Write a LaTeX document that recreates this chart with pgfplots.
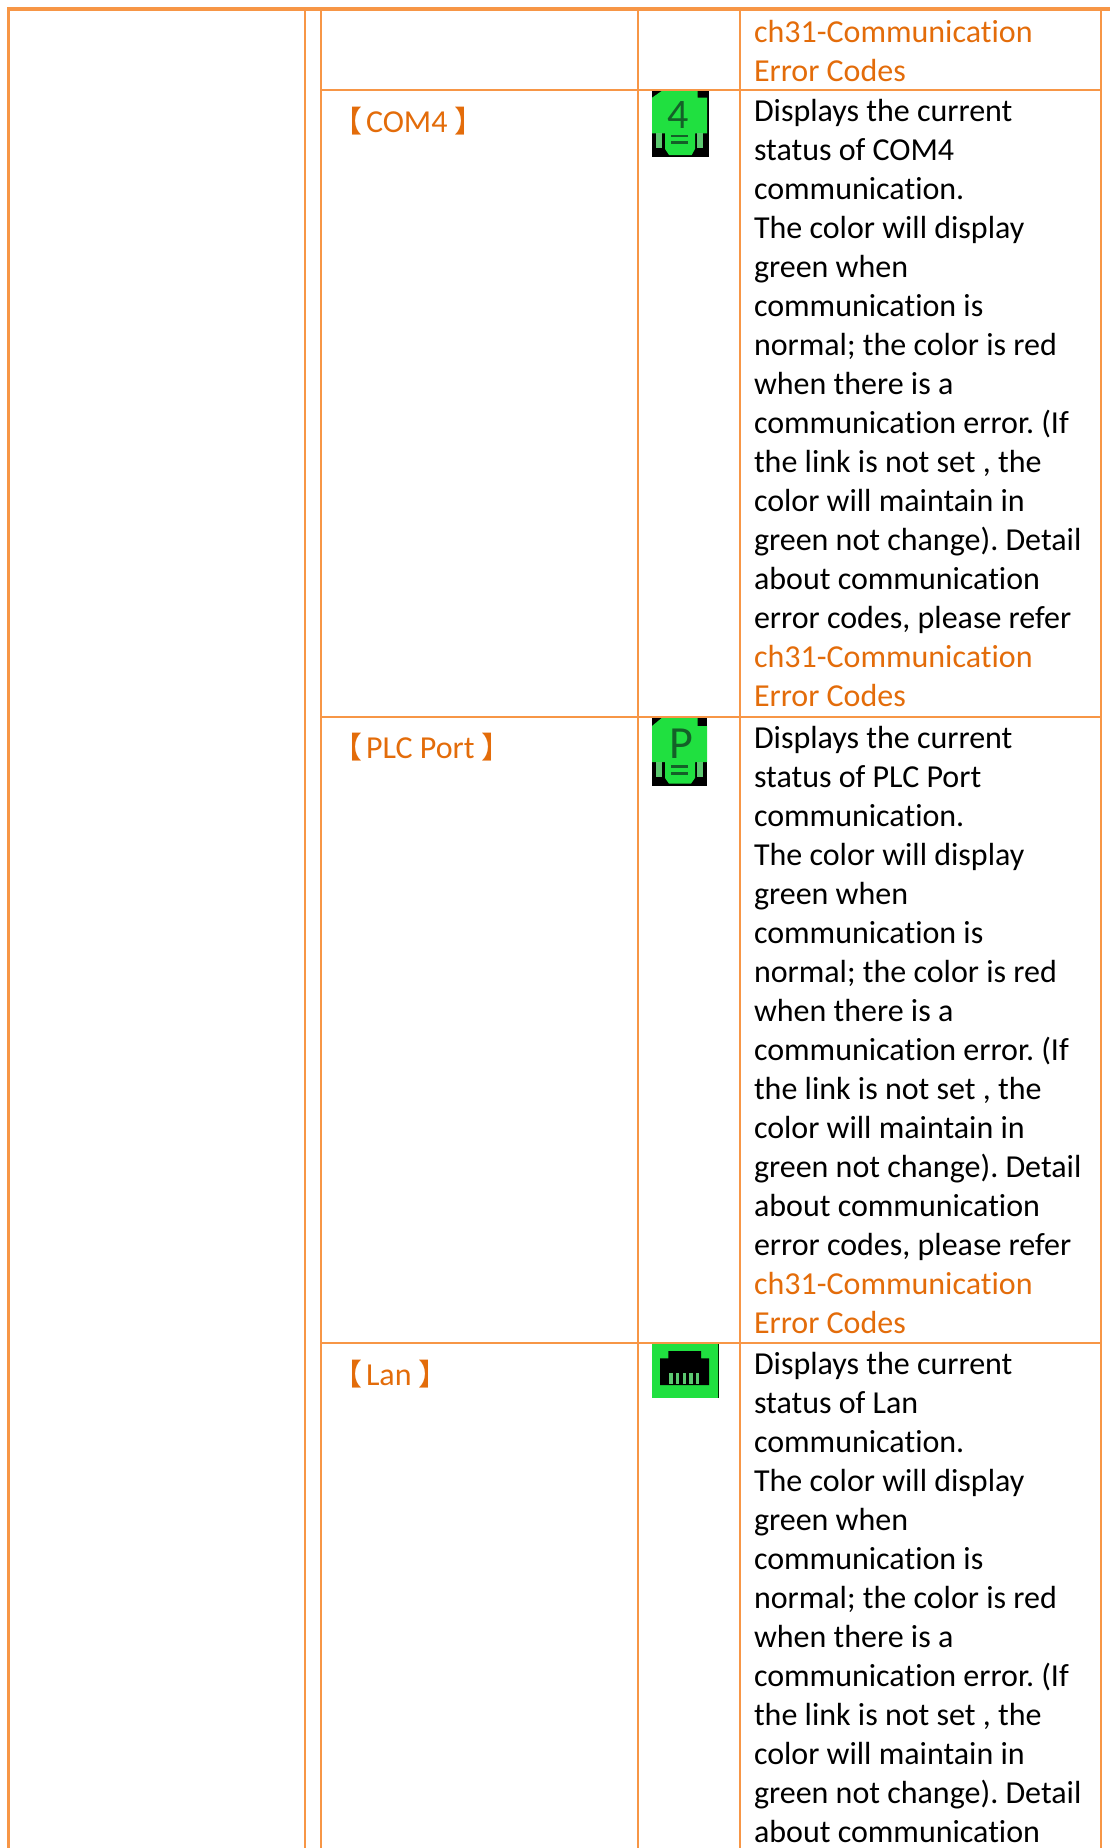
\documentclass[border=0pt]{standalone}
\usepackage{pgfplots}
\pgfplotsset{compat=1.18}
\usepackage{fontspec}
\setmainfont[Ligatures=NoCommon]{Carlito}
\newfontfamily\cjk{Noto Sans CJK SC}
\definecolor{rule}{HTML}{F79646}
\definecolor{link}{HTML}{E36C0A}
\definecolor{igreen}{HTML}{20E040}
\definecolor{dgreen}{HTML}{146028}
\definecolor{pin}{HTML}{5CC870}
\frenchspacing
\newcommand{\T}[2]{\node[anchor=base west,inner sep=0pt,outer sep=0pt,text=black] at (axis cs:754,#1) {\fontsize{32}{39}\selectfont\frenchspacing #2};}
\newcommand{\Tl}[2]{\node[anchor=base west,inner sep=0pt,outer sep=0pt,text=link] at (axis cs:754,#1) {\fontsize{32}{39}\selectfont\frenchspacing #2};}
\newcommand{\Lb}[2]{\node[anchor=base west,inner sep=0pt,outer sep=0pt,text=link] at (axis cs:332.5,#1) {\fontsize{30}{39}\selectfont{\cjk 【}\hspace{3.5pt}\fontsize{32}{39}\selectfont #2\hspace{7pt}\fontsize{30}{39}\selectfont{\cjk 】}};}
\begin{document}
\begin{tikzpicture}
\begin{axis}[
  scale only axis, width=1110pt, height=1848pt,
  xmin=0, xmax=1110, ymin=0, ymax=1848, y dir=reverse,
  hide axis, clip=true, no markers]
% rules
\addplot[rule,line width=4pt] coordinates {(7,9) (1110,9)};
\addplot[rule,line width=2.4pt] coordinates {(8.5,8) (8.5,1848)};
\addplot[rule,line width=2pt] coordinates {(305,8) (305,1848)};
\addplot[rule,line width=2pt] coordinates {(321,8) (321,1848)};
\addplot[rule,line width=2pt] coordinates {(638,8) (638,1848)};
\addplot[rule,line width=2pt] coordinates {(740,8) (740,1848)};
\addplot[rule,line width=2pt] coordinates {(1101,8) (1101,1848)};
\addplot[rule,line width=2pt] coordinates {(321,90) (1101,90)};
\addplot[rule,line width=2pt] coordinates {(321,717) (1101,717)};
\addplot[rule,line width=2pt] coordinates {(321,1343) (1101,1343)};
% COM4 icon
\addplot[fill=black,draw=none] coordinates {(652,91)(709,91)(709,157)(652,157)} --cycle;
\addplot[fill=igreen,draw=none] coordinates {(661.7,91)(697.7,91)(697.7,97.7)(707,97.7)(707,133.3)(695,133.3)(695,149)(691.7,155)(669,155)(665,149)(665,133.3)(652,133.3)(652,97.7)} --cycle;
\addplot[fill=pin,draw=none] coordinates {(656,133)(661.7,133)(661.7,148.3)(656,148.3)} --cycle;
\addplot[fill=pin,draw=none] coordinates {(697,133)(702.5,133)(702.5,148.3)(697,148.3)} --cycle;
\addplot[dgreen,line width=2.4pt] coordinates {(671,136.2)(688.3,136.2)};
\addplot[dgreen,line width=3pt] coordinates {(671,142.6)(688.3,142.6)};
\node[anchor=base,inner sep=0pt,text=dgreen] at (axis cs:678,128.3) {\fontsize{42}{42}\selectfont 4};
% P icon
\addplot[fill=black,draw=none] coordinates {(652,718)(707,718)(707,786)(652,786)} --cycle;
\addplot[fill=igreen,draw=none] coordinates {(661.7,718)(697.7,718)(697.7,726)(707,726)(707,762)(695,762)(695,778)(691,783.6)(669,783.6)(665,778)(665,762)(652,762)(652,726)} --cycle;
\addplot[fill=pin,draw=none] coordinates {(656,762)(661.7,762)(661.7,777)(656,777)} --cycle;
\addplot[fill=pin,draw=none] coordinates {(697,762)(702.5,762)(702.5,777)(697,777)} --cycle;
\addplot[dgreen,line width=2.6pt] coordinates {(671,766.7)(688.3,766.7)};
\addplot[dgreen,line width=3pt] coordinates {(671,773)(688.3,773)};
\node[anchor=base,inner sep=0pt,text=dgreen] at (axis cs:681,758.7) {\fontsize{46}{46}\selectfont P};
% Lan icon
\addplot[fill=igreen,draw=none] coordinates {(652,1344)(717.5,1344)(717.5,1398)(652,1398)} --cycle;
\addplot[fill=black!85!green,draw=none] coordinates {(717.5,1344)(719,1344)(719,1398)(717.5,1398)} --cycle;
\addplot[fill=black,draw=none] coordinates {(668.3,1351)(701,1351)(701,1358.3)(709,1358.3)(709,1385)(660,1385)(660,1358.3)(668.3,1358.3)} --cycle;
\addplot[fill=pin,draw=none] coordinates {(669.3,1373.3)(672.7,1373.3)(672.7,1384)(669.3,1384)} --cycle;
\addplot[fill=pin,draw=none] coordinates {(676,1373.3)(679.3,1373.3)(679.3,1384)(676,1384)} --cycle;
\addplot[fill=pin,draw=none] coordinates {(682.7,1373.3)(686,1373.3)(686,1384)(682.7,1384)} --cycle;
\addplot[fill=pin,draw=none] coordinates {(689.3,1373.3)(692.7,1373.3)(692.7,1384)(689.3,1384)} --cycle;
\addplot[fill=pin,draw=none] coordinates {(696,1373.3)(699.3,1373.3)(699.3,1384)(696,1384)} --cycle;
% labels
\Lb{132.2}{COM4}
\Lb{758.7}{PLC Port}
\Lb{1385}{Lan}
% text
\Tl{42}{ch31-Communication}
\Tl{81}{Error Codes}
\T{121}{Displays the current}
\T{160.05}{status of COM4}
\T{199.1}{communication.}
\T{238.15}{The color will display}
\T{277.2}{green when}
\T{316.25}{communication is}
\T{355.3}{normal; the color is red}
\T{394.35}{when there is a}
\T{433.4}{communication error. (If}
\T{472.45}{the link is not set , the}
\T{511.5}{color will maintain in}
\T{550.55}{green not change). Detail}
\T{589.6}{about communication}
\T{628.65}{error codes, please refer}
\Tl{667.7}{ch31-Communication}
\Tl{706.75}{Error Codes}
\T{748}{Displays the current}
\T{787.05}{status of PLC Port}
\T{826.1}{communication.}
\T{865.15}{The color will display}
\T{904.2}{green when}
\T{943.25}{communication is}
\T{982.3}{normal; the color is red}
\T{1021.35}{when there is a}
\T{1060.4}{communication error. (If}
\T{1099.45}{the link is not set , the}
\T{1138.5}{color will maintain in}
\T{1177.55}{green not change). Detail}
\T{1216.6}{about communication}
\T{1255.65}{error codes, please refer}
\Tl{1294.7}{ch31-Communication}
\Tl{1333.75}{Error Codes}
\T{1374}{Displays the current}
\T{1413.05}{status of Lan}
\T{1452.1}{communication.}
\T{1491.15}{The color will display}
\T{1530.2}{green when}
\T{1569.25}{communication is}
\T{1608.3}{normal; the color is red}
\T{1647.35}{when there is a}
\T{1686.4}{communication error. (If}
\T{1725.45}{the link is not set , the}
\T{1764.5}{color will maintain in}
\T{1803.55}{green not change). Detail}
\T{1842.6}{about communication}
\end{axis}
\pgfresetboundingbox
\useasboundingbox (0,0) rectangle (1110pt,1848pt);
\end{tikzpicture}
\end{document}
